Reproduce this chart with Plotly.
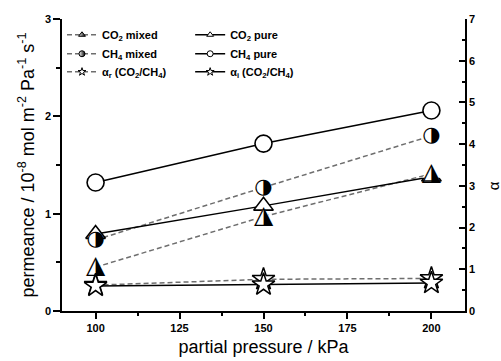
import plotly.graph_objects as go

# partial pressure (kPa) and measured permeances (10^-8 mol m^-2 Pa^-1 s^-1)
pressure = [100, 150, 200]
co2_mixed = [0.45, 0.97, 1.41]
ch4_mixed = [0.73, 1.27, 1.80]
co2_pure = [0.79, 1.08, 1.38]
ch4_pure = [1.32, 1.72, 2.06]

# CO2/CH4 selectivities (right axis)
alpha_real = [0.62, 0.76, 0.78]
alpha_ideal = [0.60, 0.63, 0.67]

x_ticks = [100, 125, 150, 175, 200]

FONT = "Liberation Sans, Arial, sans-serif"
GLYPH_FONT = "DejaVu Sans"
GREY = "#6e6e6e"
DASH = "5px,3px"

fig = go.Figure()

# ---- legend entries: two columns of three rows, one legend box per entry ----
legend_items = [
    ("CO<sub>2</sub> mixed", DASH, GREY, "triangle-up", True),
    ("CH<sub>4</sub> mixed", DASH, GREY, "circle", True),
    ("α<sub>r</sub> (CO<sub>2</sub>/CH<sub>4</sub>)", DASH, GREY, "star", False),
    ("CO<sub>2</sub> pure", "solid", "black", "triangle-up", False),
    ("CH<sub>4</sub> pure", "solid", "black", "circle", False),
    ("α<sub>i</sub> (CO<sub>2</sub>/CH<sub>4</sub>)", "solid", "black", "star", False),
]
legend_ids = ["legend", "legend2", "legend3", "legend4", "legend5", "legend6"]
for (name, dash, lcol, sym, half), leg in zip(legend_items, legend_ids):
    marker = dict(symbol=sym, size=6, color="white",
                  line=dict(color="black", width=1))
    if half:
        marker["gradient"] = dict(type="horizontal", color="black")
    fig.add_trace(go.Scatter(
        x=[None], y=[None], mode="lines+markers", name=name, legend=leg,
        line=dict(color=lcol, width=1.5, dash=dash), marker=marker,
    ))

# ---- connecting lines ----
for ys, dash, col in [
    (co2_mixed, DASH, GREY),
    (ch4_mixed, DASH, GREY),
    (co2_pure, "solid", "black"),
    (ch4_pure, "solid", "black"),
]:
    fig.add_trace(go.Scatter(x=pressure, y=ys, mode="lines", showlegend=False,
                             line=dict(color=col, width=1.5, dash=dash),
                             hoverinfo="skip"))

# ---- symbols for permeance series ----
# pure gases: white-filled outlined markers
fig.add_trace(go.Scatter(
    x=pressure, y=co2_pure, mode="markers", showlegend=False,
    marker=dict(symbol="triangle-up", size=17, color="white",
                line=dict(color="black", width=1.6))))
fig.add_trace(go.Scatter(
    x=pressure, y=ch4_pure, mode="markers", showlegend=False,
    marker=dict(symbol="circle", size=17, color="white",
                line=dict(color="black", width=1.6))))

# mixed gases: half-filled symbols drawn as glyphs over a white backing
fig.add_trace(go.Scatter(
    x=pressure, y=co2_mixed, mode="markers+text", showlegend=False,
    marker=dict(symbol="triangle-up", size=16, color="white", line=dict(width=0)),
    text=["◮"] * len(pressure), textposition="middle center",
    textfont=dict(family=GLYPH_FONT, size=25, color="black")))
fig.add_trace(go.Scatter(
    x=pressure, y=ch4_mixed, mode="markers+text", showlegend=False,
    marker=dict(symbol="circle", size=15, color="white", line=dict(width=0)),
    text=["◑"] * len(pressure), textposition="middle center",
    textfont=dict(family=GLYPH_FONT, size=21, color="black")))

# ---- selectivities on the right axis ----
fig.add_trace(go.Scatter(
    x=pressure, y=alpha_real, yaxis="y2", mode="lines", showlegend=False,
    line=dict(color=GREY, width=1.5, dash=DASH), hoverinfo="skip"))
fig.add_trace(go.Scatter(
    x=pressure, y=alpha_ideal, yaxis="y2", mode="lines", showlegend=False,
    line=dict(color="black", width=1.5), hoverinfo="skip"))
fig.add_trace(go.Scatter(
    x=pressure, y=alpha_real, yaxis="y2", mode="markers", showlegend=False,
    marker=dict(symbol="star", size=17, color="white",
                line=dict(color="black", width=1.5))))
fig.add_trace(go.Scatter(
    x=pressure, y=alpha_ideal, yaxis="y2", mode="markers", showlegend=False,
    marker=dict(symbol="star", size=17, color="white",
                line=dict(color="black", width=1.5))))

tickfont = dict(family=FONT, size=11, color="black", weight="bold")
legend_font = dict(family=FONT, size=11, color="black", weight="bold")

# legend box positions (paper coordinates): column x, row y
col_x = [0.0, 0.318]
row_y = [0.946, 0.881, 0.819]
legend_layout = {}
for i, leg in enumerate(legend_ids):
    legend_layout[leg] = dict(
        x=col_x[i // 3], y=row_y[i % 3], xanchor="left", yanchor="middle",
        bgcolor="rgba(0,0,0,0)", font=legend_font, itemwidth=30,
    )

fig.update_layout(
    width=501, height=361,
    margin=dict(l=62, r=36, t=19, b=50),
    paper_bgcolor="white", plot_bgcolor="white",
    font=dict(family=FONT, color="black"),
    showlegend=True,
    **legend_layout,
    xaxis=dict(
        range=[90, 210], tickvals=x_ticks, ticks="outside", ticklen=6,
        tickwidth=1.5, tickcolor="black", showline=True, linewidth=1.5,
        linecolor="black", showgrid=False, zeroline=False, tickfont=tickfont,
        automargin=False,
        minor=dict(dtick=12.5, tick0=100, ticks="outside", ticklen=3.5,
                   tickwidth=1.5, tickcolor="black", showgrid=False),
        title=dict(text="partial pressure / kPa",
                   font=dict(family=FONT, size=18), standoff=7),
    ),
    yaxis=dict(
        range=[0, 3], dtick=1, ticks="outside", ticklen=7, tickwidth=1.5,
        tickcolor="black", showline=True, linewidth=1.5, linecolor="black",
        showgrid=False, zeroline=False, tickfont=tickfont, automargin=False,
        minor=dict(dtick=0.5, ticks="outside", ticklen=4, tickwidth=1.5,
                   tickcolor="black", showgrid=False),
        title=dict(
            text="permeance / 10<sup>-8</sup> mol m<sup>-2</sup> "
                 "Pa<sup>-1</sup> s<sup>-1</sup>",
            font=dict(family=FONT, size=18), standoff=6),
    ),
    yaxis2=dict(
        range=[0, 7], dtick=1, overlaying="y", side="right", ticks="inside",
        ticklen=6, tickwidth=1.5, tickcolor="black", showline=True,
        linewidth=1.5, linecolor="black", showgrid=False, zeroline=False,
        tickfont=tickfont, automargin=False,
        minor=dict(dtick=0.5, ticks="inside", ticklen=3.5, tickwidth=1.5,
                   tickcolor="black", showgrid=False),
    ),
    annotations=[dict(
        text="α", xref="paper", yref="paper", x=1, y=3 / 7,
        xshift=39, showarrow=False, textangle=-90,
        font=dict(family=FONT, size=15, color="black"),
    )],
)

fig.write_html("out.html")
